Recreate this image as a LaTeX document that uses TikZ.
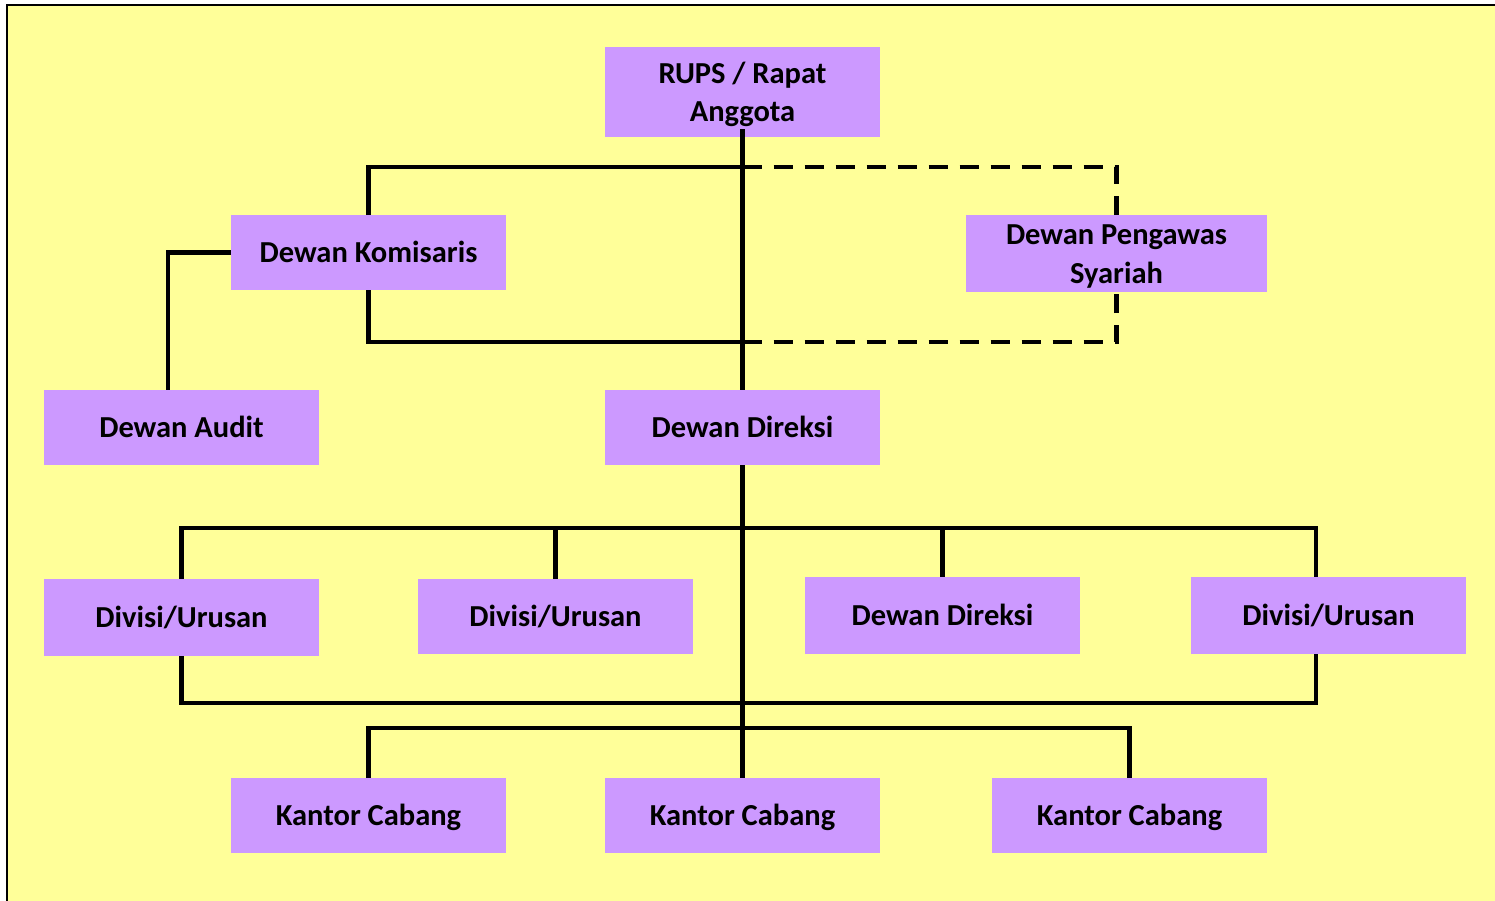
\documentclass[tikz,border=0pt]{standalone}
\usepackage{fontspec}
\setmainfont{Carlito}
\newcommand{\topstrut}{\rule{0pt}{27pt}}
\newcommand{\botstrut}{\rule[-6.5pt]{0pt}{6.5pt}}
\begin{document}
\begin{tikzpicture}[x=1pt,y=-1pt,
  box/.style={rectangle, fill=boxpurple, inner sep=0pt, minimum width=275pt, minimum height=75pt,
    align=center, font=\fontsize{30.5}{38.5}\selectfont\bfseries},
  onebox/.style={box, text height=25pt, text depth=6pt},
  link/.style={line width=4.5pt, draw=black},
  dlink/.style={line width=4.5pt, draw=black, dash pattern=on 19pt off 12pt}]
\definecolor{bgyellow}{HTML}{FFFF99}
\definecolor{boxpurple}{HTML}{CC99FF}
\useasboundingbox (0,0) rectangle (1495,900);
\clip (0,0) rectangle (1495,900);
\fill[white] (0,0) rectangle (1495,900);
\draw[fill=bgyellow, line width=2pt] (6.5,5) rectangle (1520,920);

% nodes
\node[box, minimum height=90pt] (rups) at (742.5,92) {\topstrut RUPS / Rapat\\Anggota\botstrut};
\node[onebox] (kom) at (368.5,252.5) {Dewan Komisaris};
\node[box, minimum width=301pt, minimum height=77pt] (dps) at (1116.5,253.5) {\topstrut Dewan Pengawas\\Syariah\botstrut};
\node[onebox] (audit) at (181.5,427.5) {Dewan Audit};
\node[onebox] (direksi) at (742.5,427.5) {Dewan Direksi};
\node[onebox, minimum height=77pt] (div1) at (181.5,617.5) {Divisi/Urusan};
\node[onebox] (div2) at (555.5,616.5) {Divisi/Urusan};
\node[onebox, minimum height=77pt] (dir2) at (942.5,615.5) {Dewan Direksi};
\node[onebox, minimum height=77pt] (div4) at (1328.5,615.5) {Divisi/Urusan};
\node[onebox] (kc1) at (368.5,815.5) {Kantor Cabang};
\node[onebox] (kc2) at (742.5,815.5) {Kantor Cabang};
\node[onebox] (kc3) at (1129.5,815.5) {Kantor Cabang};

% junction coordinates
\coordinate (ktop) at (742.5,167);
\coordinate (kbot) at (742.5,342);
\coordinate (bus1) at (742.5,528);
\coordinate (bus2) at (742.5,703);
\coordinate (bus3) at (742.5,728);
\coordinate (auditin) at (168,390);
\coordinate (div4in) at (1316,577);
\coordinate (div4out) at (1316,654);

% connectors
\draw[link] ([yshift=8pt]rups.south) -- (direksi.north);
\draw[link] (kom.north) |- (ktop);
\draw[link] (kom.south) |- (kbot);
\draw[dlink] (ktop) -| (dps.north);
\draw[dlink] (kbot) -| (dps.south);
\draw[link] (kom.west) -| (auditin);
\draw[link] (direksi.south) -- (kc2.north);
\draw[link] (div1.north) |- (bus1) -| (div4in);
\draw[link] (div2.north) -- (div2.north |- bus1);
\draw[link] (dir2.north) -- (dir2.north |- bus1);
\draw[link] (div1.south) |- (bus2) -| (div4out);
\draw[link] (kc1.north) |- (bus3) -| (kc3.north);
\end{tikzpicture}
\end{document}
